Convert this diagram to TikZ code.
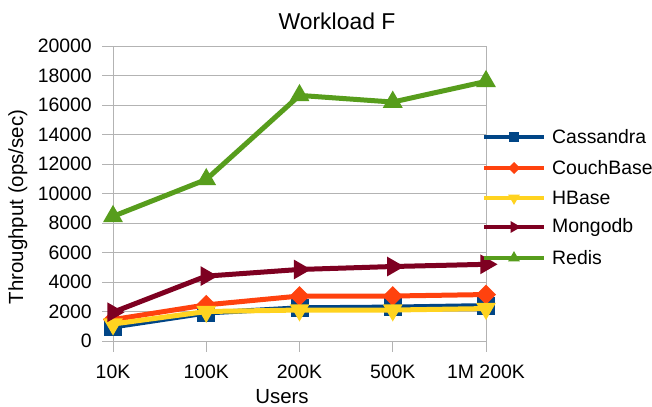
\documentclass[tikz,border=0pt]{standalone}
\usepackage{fontspec}
\setmainfont{Liberation Sans}
\usetikzlibrary{shapes.geometric}
\definecolor{cass}{HTML}{004586}
\definecolor{couch}{HTML}{FF420E}
\definecolor{hbase}{HTML}{FFD320}
\definecolor{mongo}{HTML}{7E0021}
\definecolor{redis}{HTML}{579D1C}
\definecolor{gridc}{HTML}{B3B3B3}
\tikzset{
  grid line/.style={draw=gridc, line width=1bp},
  series/.style={line width=5bp, line join=round, line cap=butt},
  legline/.style={line width=4.5bp},
  mk/.style={inner sep=0pt, outer sep=0pt, draw=none},
  sq/.style={mk, rectangle, minimum size=18bp},
  dia/.style={mk, diamond, minimum width=20bp, minimum height=20bp},
  tridown/.style={mk, regular polygon, regular polygon sides=3, shape border rotate=180, minimum size=23bp},
  triright/.style={mk, regular polygon, regular polygon sides=3, shape border rotate=-90, minimum size=23bp},
  triup/.style={mk, regular polygon, regular polygon sides=3, minimum size=23bp},
  ticklab/.style={font=\fontsize{19.5}{21}\selectfont, inner sep=0pt},
  axlab/.style={font=\fontsize{20.5}{22}\selectfont, inner sep=0pt},
}
\begin{document}
\begin{tikzpicture}[x=1bp,y=-1bp]
\useasboundingbox (0,0) rectangle (652,406);
\fill[white] (0,0) rectangle (652,406);
% title
\node[font=\fontsize{23}{25}\selectfont, inner sep=0pt, anchor=base] (title) at (337,29) {Workload F};
% plot area: y of value v (thousands) = 341 - 14.75 v
\begin{scope}[shift={(0,341)}, y=14.75bp]
  \foreach \v/\lab in {0/0,2/2000,4/4000,6/6000,8/8000,10/10000,12/12000,14/14000,16/16000,18/18000,20/20000} {
    \draw[grid line] (102,\v) -- (486,\v);
    \node[ticklab, anchor=east] (yl\v) at (92,\v) {\lab};
  }
  \draw[grid line] (113,0) -- (113,20);
  \draw[grid line] (486,0) -- (486,20);
  \foreach \x in {113,206.25,299.5,392.75,486} {
    \draw[grid line] (\x,0) -- (\x,-0.75);
  }
  % Cassandra
  \draw[series, cass] (113,0.95) coordinate (c1) -- (206.25,1.9) coordinate (c2) -- (299.5,2.25) coordinate (c3) -- (392.75,2.3) coordinate (c4) -- (486,2.4) coordinate (c5);
  \foreach \i in {1,...,5} \node[sq, fill=cass] at (c\i) {};
  % CouchBase
  \draw[series, couch] (113,1.45) coordinate (d1) -- (206.25,2.45) coordinate (d2) -- (299.5,3.05) coordinate (d3) -- (392.75,3.05) coordinate (d4) -- (486,3.15) coordinate (d5);
  \foreach \i in {1,...,5} \node[dia, fill=couch] at (d\i) {};
  % HBase
  \draw[series, hbase] (113,1.15) coordinate (h1) -- (206.25,2.0) coordinate (h2) -- (299.5,2.1) coordinate (h3) -- (392.75,2.1) coordinate (h4) -- (486,2.2) coordinate (h5);
  \foreach \i in {1,...,5} \node[tridown, fill=hbase] at (h\i) {};
  % Mongodb
  \draw[series, mongo] (113,1.95) coordinate (m1) -- (206.25,4.4) coordinate (m2) -- (299.5,4.85) coordinate (m3) -- (392.75,5.05) coordinate (m4) -- (486,5.2) coordinate (m5);
  \foreach \i in {1,...,5} \node[triright, fill=mongo] at (m\i) {};
  % Redis
  \draw[series, redis] (113,8.45) coordinate (r1) -- (206.25,10.95) coordinate (r2) -- (299.5,16.65) coordinate (r3) -- (392.75,16.2) coordinate (r4) -- (486,17.6) coordinate (r5);
  \foreach \i in {1,...,5} \node[triup, fill=redis] at (r\i) {};
\end{scope}
% x tick labels
\node[ticklab, anchor=base] (x1) at (113,378) {10K};
\node[ticklab, anchor=base] (x2) at (206.25,378) {100K};
\node[ticklab, anchor=base] (x3) at (299.5,378) {200K};
\node[ticklab, anchor=base] (x4) at (392.75,378) {500K};
\node[ticklab, anchor=base] (x5) at (486,378) {1M 200K};
% axis titles
\node[axlab, anchor=base] (xt) at (282,403) {Users};
\node[axlab, rotate=90, anchor=base] (yt) at (23,207) {Throughput (ops/sec)};
% legend
\foreach \yy/\col/\st/\nm in {137/cass/sq/Cassandra, 168/couch/dia/CouchBase, 198/hbase/tridown/HBase, 227/mongo/triright/Mongodb, 258/redis/triup/Redis} {
  \draw[legline, \col] (484,\yy) -- (544,\yy);
  \node[\st, fill=\col, scale=0.6] at (514,\yy) {};
  \node[ticklab, anchor=west] at (552,\yy) {\nm};
}
\end{tikzpicture}
\end{document}
